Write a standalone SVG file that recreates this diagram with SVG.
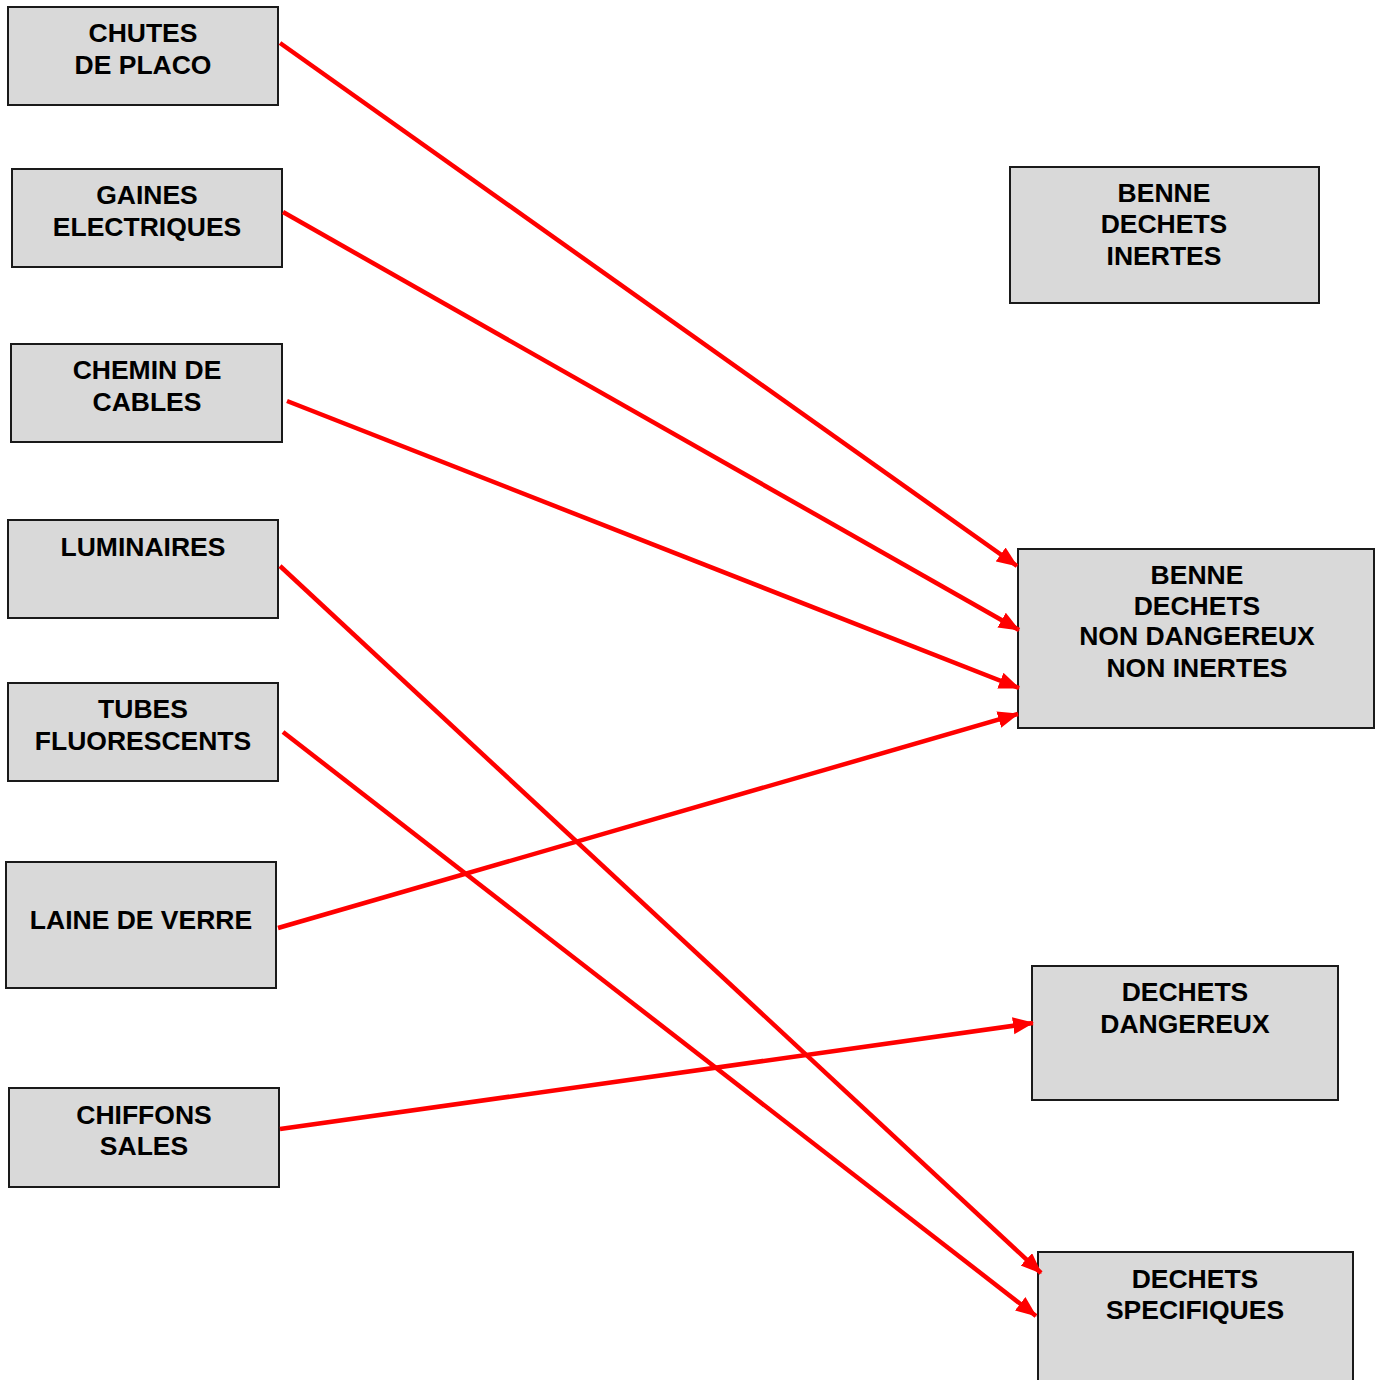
<svg xmlns="http://www.w3.org/2000/svg" width="1378" height="1380" viewBox="0 0 1378 1380">
<style>
.box{fill:#d9d9d9;stroke:#1a1a1a;stroke-width:2}
.t{font-family:"Liberation Sans",Arial,sans-serif;font-weight:bold;font-size:26.5px;fill:#000;text-anchor:middle}
.c{stroke:#ff0000;stroke-width:4.5;fill:none;marker-end:url(#ah)}
</style>
<defs>
<marker id="ah" markerUnits="userSpaceOnUse" markerWidth="24" markerHeight="18" refX="20" refY="8.5" orient="auto">
<path d="M0,0 L21,8.5 L0,17 Z" fill="#ff0000"/>
</marker>
</defs>
<rect width="1378" height="1380" fill="#fff"/>
<g id="n1"><rect class="box" x="8" y="7" width="270" height="98"/><text class="t" x="143" y="42">CHUTES</text><text class="t" x="143" y="74">DE PLACO</text></g>
<g id="n2"><rect class="box" x="12" y="169" width="270" height="98"/><text class="t" x="147" y="204">GAINES</text><text class="t" x="147" y="236">ELECTRIQUES</text></g>
<g id="n3"><rect class="box" x="11" y="344" width="271" height="98"/><text class="t" x="147" y="379">CHEMIN DE</text><text class="t" x="147" y="411">CABLES</text></g>
<g id="n4"><rect class="box" x="8" y="520" width="270" height="98"/><text class="t" x="143" y="556">LUMINAIRES</text></g>
<g id="n5"><rect class="box" x="8" y="683" width="270" height="98"/><text class="t" x="143" y="718">TUBES</text><text class="t" x="143" y="750">FLUORESCENTS</text></g>
<g id="n6"><rect class="box" x="6" y="862" width="270" height="126"/><text class="t" x="141" y="929">LAINE DE VERRE</text></g>
<g id="n7"><rect class="box" x="9" y="1088" width="270" height="99"/><text class="t" x="144" y="1124">CHIFFONS</text><text class="t" x="144" y="1155">SALES</text></g>
<g id="n8"><rect class="box" x="1010" y="167" width="309" height="136"/><text class="t" x="1164" y="202">BENNE</text><text class="t" x="1164" y="233">DECHETS</text><text class="t" x="1164" y="265">INERTES</text></g>
<g id="n9"><rect class="box" x="1018" y="549" width="356" height="179"/><text class="t" x="1197" y="584">BENNE</text><text class="t" x="1197" y="615">DECHETS</text><text class="t" x="1197" y="645">NON DANGEREUX</text><text class="t" x="1197" y="677">NON INERTES</text></g>
<g id="n10"><rect class="box" x="1032" y="966" width="306" height="134"/><text class="t" x="1185" y="1001">DECHETS</text><text class="t" x="1185" y="1033">DANGEREUX</text></g>
<g id="n11"><rect class="box" x="1038" y="1252" width="315" height="140"/><text class="t" x="1195" y="1288">DECHETS</text><text class="t" x="1195" y="1319">SPECIFIQUES</text></g>
<g id="connectors">
<line class="c" x1="280" y1="43" x2="1017" y2="566"/>
<line class="c" x1="283" y1="212" x2="1019" y2="630"/>
<line class="c" x1="287" y1="401" x2="1019" y2="688"/>
<line class="c" x1="278" y1="928" x2="1018" y2="714"/>
<line class="c" x1="280" y1="566" x2="1041" y2="1273"/>
<line class="c" x1="283" y1="732" x2="1036" y2="1316"/>
<line class="c" x1="280" y1="1129" x2="1033" y2="1023"/>
</g>
</svg>
